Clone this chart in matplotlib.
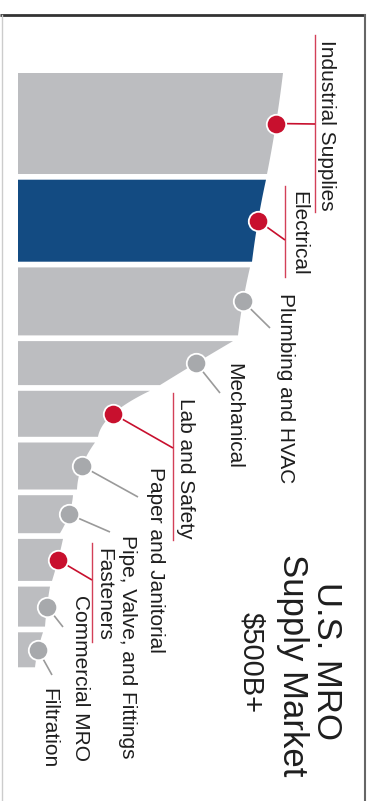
import numpy as np
import matplotlib
matplotlib.use("Agg")
import matplotlib.pyplot as plt

# Segments of the U.S. MRO supply market, largest first
categories = ["Industrial Supplies", "Electrical", "Plumbing and HVAC", "Mechanical",
              "Lab and Safety", "Paper and Janitorial", "Pipe, Valve, and Fittings",
              "Fasteners", "Commercial MRO", "Filtration"]
segment_size = [101, 82, 68, 44, 46, 47, 38, 42, 40, 35]      # band thickness
reach_start = [265, 248, 232, 215, 132, 77, 55, 45, 32, 25]   # band length at its leading edge
reach_mid = [258, 240, 225, 178, 95, 64, 51, 40, 29, 20]      # band length at its centre (marker)
reach_end = [249, 234, 220, 142, 80, 59, 42, 34, 27, 17]      # band length at its trailing edge
highlighted = [True, True, False, False, True, False, False, True, False, False]
focus_segment = "Electrical"
title_lines = ["U.S. MRO", "Supply Market", "$500B+"]

# Layout: leader end (x, y) and label anchor (baseline x, start y)
label_layout = [
    (297, 51, 303, -33),
    (267, 167, 275, 118),
    (252, 255, 262, 220),
    (202, 320, 210, 290),
    (155, 375, 162, 325),
    (120, 424, 132, 394),
    (92, 459, 104, 462),
    (74, 507, 80, 475),
    (45, 554, 57, 522),
    (34, 602, 25, 615),
]
GAP = 5.7

BAR_GRAY = "#bcbdc0"
BAR_BLUE = "#134b82"
RED = "#c8102e"
DOT_GRAY = "#a7a9ac"
LINE_GRAY = "#9a9a9a"
TEXT = "#1e1e1e"

plt.rcParams["font.family"] = ["Liberation Sans", "DejaVu Sans"]

fig = plt.figure(figsize=(3.72, 8.01), dpi=100)
ax = fig.add_axes([0, 0, 1, 1])
ax.set_xlim(-18, 354)
ax.set_ylim(728, -73)
ax.axis("off")

sizes = np.array(segment_size, dtype=float)
tops = np.concatenate([[0.0], np.cumsum(sizes + GAP)[:-1]])
bottoms = tops + sizes
centers = (tops + bottoms) / 2

t = np.linspace(0, 1, 60)
for i, cat in enumerate(categories):
    s, m, e = reach_start[i], reach_mid[i], reach_end[i]
    # quadratic edge through the three reach values
    edge = s * (1 - t) * (1 - 2 * t) + m * 4 * t * (1 - t) + e * t * (2 * t - 1)
    ys = tops[i] + t * sizes[i]
    xs = np.concatenate([[0], edge, [0]])
    yy = np.concatenate([[tops[i]], ys, [bottoms[i]]])
    color = BAR_BLUE if cat == focus_segment else BAR_GRAY
    ax.fill(xs, yy, color=color, lw=0, zorder=1)

texts = []
for i, cat in enumerate(categories):
    lx, ly, tx, ty = label_layout[i]
    col = RED if highlighted[i] else LINE_GRAY
    ax.plot([reach_mid[i], lx], [centers[i], ly], color=col, lw=1.2, zorder=2,
            solid_capstyle="butt")
    ax.plot(reach_mid[i], centers[i], "o", ms=14,
            mfc=RED if highlighted[i] else DOT_GRAY, mec="white", mew=1.3, zorder=3)
    txt = ax.text(tx, ty, cat, rotation=-90, rotation_mode="anchor",
                  ha="left", va="baseline", fontsize=15, color=TEXT, zorder=4)
    texts.append(txt)

fig.canvas.draw()
inv = ax.transData.inverted()
for i, txt in enumerate(texts):
    if not highlighted[i]:
        continue
    bb = txt.get_window_extent()
    (_, y0), (_, y1) = inv.transform([[bb.x0, bb.y0], [bb.x1, bb.y1]])
    lo, hi = min(y0, y1), max(y0, y1)
    lx = label_layout[i][0]
    ax.plot([lx, lx], [lo - 5, hi + 1], color=RED, lw=1.0, alpha=0.8, zorder=2)

# title block
ax.text(299, 588, title_lines[0], rotation=-90, rotation_mode="anchor",
        ha="center", va="baseline", fontsize=25, color=TEXT)
ax.text(265, 592, title_lines[1], rotation=-90, rotation_mode="anchor",
        ha="center", va="baseline", fontsize=25, color=TEXT)
ax.text(225, 590, title_lines[2], rotation=-90, rotation_mode="anchor",
        ha="center", va="baseline", fontsize=21, color=TEXT)

# frame
ax.plot([-18, 347], [-58.5, -58.5], color="#333333", lw=2.0, clip_on=False,
        solid_capstyle="butt")
ax.plot([347, 347], [-58.5, 728], color="#666666", lw=1.5, clip_on=False)
ax.plot([-16, -16], [-58.5, 728], color="#cccccc", lw=1.0, clip_on=False)

fig.savefig("out.png", dpi=100)
